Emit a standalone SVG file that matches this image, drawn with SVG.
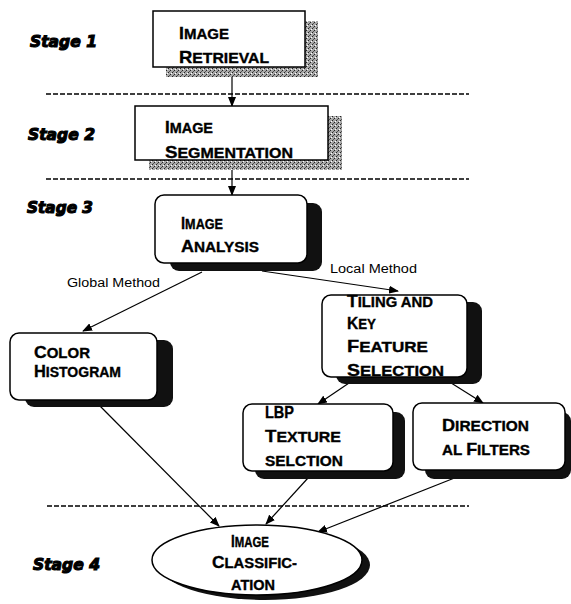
<svg xmlns="http://www.w3.org/2000/svg" width="571" height="604" viewBox="0 0 571 604">
<style>
.stage{font-family:"DejaVu Sans","Liberation Sans",sans-serif;font-weight:bold;font-style:italic;font-size:15px;fill:#000;stroke:#000;stroke-width:1.1}
.t{font-family:"Liberation Sans",Arial,sans-serif;font-weight:bold;fill:#000;stroke:#000;stroke-width:0.35}
.b{font-size:17px}
.s{font-size:14.5px}
.lbl{font-family:"Liberation Sans",Arial,sans-serif;font-size:12.5px;fill:#000}
.box{fill:#fff;stroke:#000;stroke-width:1.5}
.sh{fill:#111}
.hs{fill:url(#dither)}
.dash{stroke:#000;stroke-width:1.3;stroke-dasharray:5 2;fill:none}
.con{stroke:#000;stroke-width:1.2;fill:none;marker-end:url(#arr)}
</style>
<defs>
<pattern id="dither" width="4" height="4" patternUnits="userSpaceOnUse">
<rect width="4" height="4" fill="#a8a8a8"/>
<rect x="0" y="0" width="1" height="1" fill="#222"/>
<rect x="2" y="2" width="1" height="1" fill="#222"/>
<rect x="1" y="3" width="1" height="1" fill="#555"/>
<rect x="3" y="1" width="1" height="1" fill="#fff"/>
</pattern>
<marker id="arr" markerWidth="10" markerHeight="8" refX="9" refY="4" orient="auto" markerUnits="userSpaceOnUse">
<path d="M0,0 L10,4 L0,8 z" fill="#000"/>
</marker>
</defs>
<rect width="571" height="604" fill="#fff"/>

<g id="stages">
<text class="stage" x="30" y="47" textLength="67" lengthAdjust="spacingAndGlyphs">Stage 1</text>
<text class="stage" x="28" y="140" textLength="67" lengthAdjust="spacingAndGlyphs">Stage 2</text>
<text class="stage" x="27" y="213" textLength="66" lengthAdjust="spacingAndGlyphs">Stage 3</text>
<text class="stage" x="33" y="570" textLength="67" lengthAdjust="spacingAndGlyphs">Stage 4</text>
</g>

<g id="dividers">
<line class="dash" x1="46" y1="94" x2="469" y2="94"/>
<line class="dash" x1="46" y1="179" x2="469" y2="179"/>
<line class="dash" x1="47" y1="506" x2="469" y2="506"/>
</g>

<g id="connectors">
<line class="con" x1="232" y1="68" x2="232" y2="106"/>
<line class="con" x1="232" y1="161" x2="232" y2="195"/>
<line class="con" x1="202" y1="272" x2="83" y2="331"/>
<line class="con" x1="262" y1="271" x2="398" y2="291"/>
<line class="con" x1="352" y1="381" x2="318" y2="404"/>
<line class="con" x1="448" y1="381" x2="483" y2="403"/>
<line class="con" x1="100" y1="406" x2="219" y2="526"/>
<line class="con" x1="308" y1="478" x2="266" y2="524"/>
<line class="con" x1="457" y1="477" x2="318" y2="532"/>
<text class="lbl" x="67" y="287" textLength="93" lengthAdjust="spacingAndGlyphs">Global Method</text>
<text class="lbl" x="330" y="273" textLength="87" lengthAdjust="spacingAndGlyphs">Local Method</text>
</g>

<g id="n-retrieval">
<rect class="hs" x="166" y="21" width="152" height="56"/>
<rect class="box" x="153" y="11" width="152" height="56"/>
<text class="t" x="179" y="39" textLength="50" lengthAdjust="spacingAndGlyphs"><tspan class="b">I</tspan><tspan class="s">MAGE</tspan></text>
<text class="t" x="179" y="63" textLength="90" lengthAdjust="spacingAndGlyphs"><tspan class="b">R</tspan><tspan class="s">ETRIEVAL</tspan></text>
</g>

<g id="n-segmentation">
<rect class="hs" x="149" y="116" width="193" height="54"/>
<rect class="box" x="135" y="106" width="193" height="54"/>
<text class="t" x="165" y="133" textLength="48" lengthAdjust="spacingAndGlyphs"><tspan class="b">I</tspan><tspan class="s">MAGE</tspan></text>
<text class="t" x="165" y="158" textLength="128" lengthAdjust="spacingAndGlyphs"><tspan class="b">S</tspan><tspan class="s">EGMENTATION</tspan></text>
</g>

<g id="n-analysis">
<rect class="sh" x="170" y="203" width="152" height="68" rx="9"/>
<rect class="box" x="155" y="195" width="152" height="68" rx="9"/>
<text class="t" x="181" y="229" textLength="42" lengthAdjust="spacingAndGlyphs"><tspan class="b">I</tspan><tspan class="s">MAGE</tspan></text>
<text class="t" x="181" y="252" textLength="78" lengthAdjust="spacingAndGlyphs"><tspan class="b">A</tspan><tspan class="s">NALYSIS</tspan></text>
</g>

<g id="n-color">
<rect class="sh" x="25" y="340" width="148" height="67" rx="9"/>
<rect class="box" x="10" y="333" width="147" height="67" rx="9"/>
<text class="t" x="34" y="358" textLength="56" lengthAdjust="spacingAndGlyphs"><tspan class="b">C</tspan><tspan class="s">OLOR</tspan></text>
<text class="t" x="34" y="377" textLength="87" lengthAdjust="spacingAndGlyphs"><tspan class="b">H</tspan><tspan class="s">ISTOGRAM</tspan></text>
</g>

<g id="n-tiling">
<rect class="sh" x="336" y="302" width="146" height="82" rx="9"/>
<rect class="box" x="322" y="295" width="145" height="82" rx="9"/>
<text class="t" x="347" y="307" textLength="86" lengthAdjust="spacingAndGlyphs"><tspan class="b">T</tspan><tspan class="s">ILING AND</tspan></text>
<text class="t" x="347" y="329" textLength="29" lengthAdjust="spacingAndGlyphs"><tspan class="b">K</tspan><tspan class="s">EY</tspan></text>
<text class="t" x="347" y="352" textLength="81" lengthAdjust="spacingAndGlyphs"><tspan class="b">F</tspan><tspan class="s">EATURE</tspan></text>
<text class="t" x="347" y="376" textLength="97" lengthAdjust="spacingAndGlyphs"><tspan class="b">S</tspan><tspan class="s">ELECTION</tspan></text>
</g>

<g id="n-lbp">
<rect class="sh" x="255" y="412" width="150" height="67" rx="9"/>
<rect class="box" x="243" y="404" width="150" height="67" rx="9"/>
<text class="t b" x="265" y="418" textLength="29" lengthAdjust="spacingAndGlyphs">LBP</text>
<text class="t" x="265" y="442" textLength="76" lengthAdjust="spacingAndGlyphs"><tspan class="b">T</tspan><tspan class="s">EXTURE</tspan></text>
<text class="t s" x="265" y="466" textLength="78" lengthAdjust="spacingAndGlyphs">SELCTION</text>
</g>

<g id="n-directional">
<rect class="sh" x="425" y="412" width="146" height="67" rx="9"/>
<rect class="box" x="413" y="403" width="152" height="67" rx="9"/>
<text class="t" x="442" y="431" textLength="87" lengthAdjust="spacingAndGlyphs"><tspan class="b">D</tspan><tspan class="s">IRECTION</tspan></text>
<text class="t" x="442" y="455" textLength="88" lengthAdjust="spacingAndGlyphs"><tspan class="s">AL </tspan><tspan class="b">F</tspan><tspan class="s">ILTERS</tspan></text>
</g>

<g id="n-classification">
<ellipse class="sh" cx="265" cy="565" rx="105" ry="35"/>
<ellipse class="box" cx="257" cy="560" rx="105" ry="35"/>
<text class="t" x="231" y="547" textLength="38" lengthAdjust="spacingAndGlyphs"><tspan class="b">I</tspan><tspan class="s">MAGE</tspan></text>
<text class="t" x="212" y="568" textLength="85" lengthAdjust="spacingAndGlyphs"><tspan class="b">C</tspan><tspan class="s">LASSIFIC-</tspan></text>
<text class="t s" x="231" y="590" textLength="44" lengthAdjust="spacingAndGlyphs">ATION</text>
</g>
</svg>
